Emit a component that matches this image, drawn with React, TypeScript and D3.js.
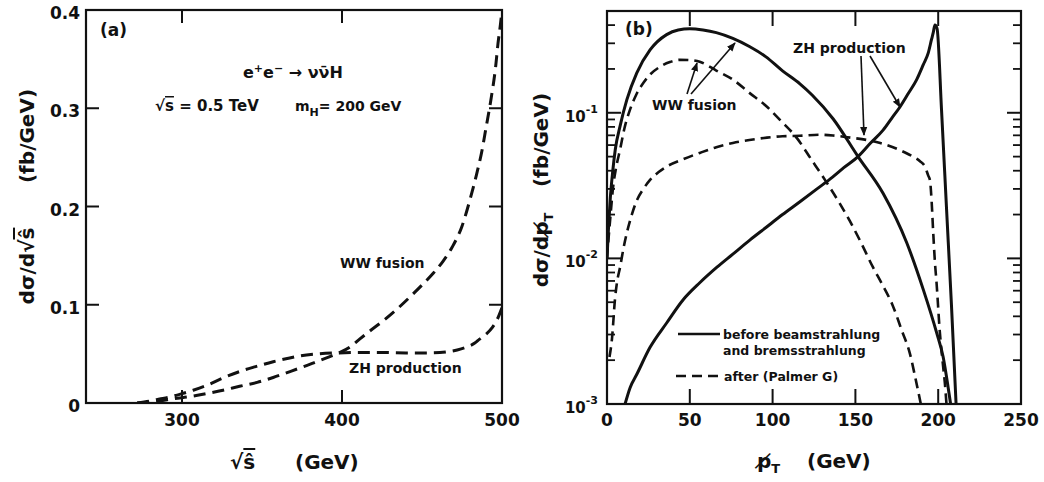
import React from 'react';
import * as d3 from 'd3';

const FONT = '"DejaVu Sans", sans-serif';

// ---------- panel (a): dσ/d√ŝ versus √ŝ ----------
const sqrtSTicks = [300, 400, 500];
const sigmaTicksA = [0, 0.1, 0.2, 0.3, 0.4];

const wwFusionA: [number, number][] = [
  [272, 0], [280, 0.0008], [286, 0.002], [295, 0.0045], [305, 0.0065], [315, 0.0095],
  [325.6, 0.013], [336, 0.017], [347, 0.021], [357, 0.026], [367.5, 0.032], [376, 0.037],
  [384, 0.042], [392, 0.047], [398, 0.051], [405, 0.057], [411, 0.065], [418, 0.074],
  [426, 0.084], [434, 0.095], [442.5, 0.108], [450, 0.12], [457, 0.132], [463, 0.144],
  [469, 0.159], [475, 0.18], [480, 0.207], [484, 0.232], [487.5, 0.257], [490, 0.28],
  [493, 0.308], [496, 0.342], [497.5, 0.366], [499, 0.385], [500, 0.4],
];

const zhProductionA: [number, number][] = [
  [272, 0], [280, 0.002], [286, 0.004], [292, 0.006], [299, 0.009], [307, 0.013],
  [315.6, 0.018], [325, 0.025], [336, 0.032], [346, 0.037], [357, 0.042], [365, 0.045],
  [374, 0.048], [385, 0.05], [398, 0.051], [420, 0.0515], [440, 0.051], [455, 0.051],
  [465, 0.052], [472, 0.054], [478, 0.057], [483, 0.061], [486, 0.065], [490, 0.07],
  [494, 0.077], [497, 0.085], [500, 0.097],
];

// ---------- panel (b): dσ/dp̸T versus p̸T ----------
const ptTicks = [0, 50, 100, 150, 200, 250];
const decades = [1e-3, 1e-2, 1e-1];
const decadeExponents = ['-3', '-2', '-1'];

const wwBefore: [number, number][] = [
  [0, 0.01], [1, 0.017], [2, 0.026], [3.5, 0.04], [5, 0.056], [8, 0.082], [12, 0.123],
  [18, 0.188], [26, 0.27], [36, 0.344], [43, 0.37], [50, 0.377], [58, 0.37], [66, 0.355],
  [76, 0.324], [86, 0.285], [96, 0.242], [106, 0.194], [116.5, 0.158], [124, 0.132],
  [136.5, 0.091], [151.6, 0.05], [166.7, 0.028], [181, 0.0128], [191, 0.0061],
  [199, 0.0031], [203, 0.0021], [206, 0.0013], [207.5, 0.001],
];

const wwAfter: [number, number][] = [
  [0, 0.01], [1, 0.014], [2, 0.019], [3.7, 0.031], [5.5, 0.042], [7.9, 0.056],
  [10.5, 0.078], [13.9, 0.105], [17.5, 0.132], [21.9, 0.16], [26, 0.183], [32, 0.207],
  [38, 0.223], [44, 0.231], [50, 0.23], [56, 0.224], [66, 0.195], [76, 0.169],
  [86, 0.137], [96.6, 0.11], [105, 0.088], [114.7, 0.067], [123, 0.0485], [132.8, 0.033],
  [140, 0.0244], [146.7, 0.018], [153, 0.0131], [160.6, 0.0087], [166, 0.0067],
  [172.7, 0.0047], [178, 0.0032], [183, 0.0022], [186, 0.00155], [189.5, 0.001],
];

const zhBefore: [number, number][] = [
  [10.9, 0.001], [14, 0.0013], [18, 0.0016], [26, 0.00245], [36, 0.0036], [46, 0.0052],
  [56, 0.0068], [66.4, 0.0087], [76, 0.0107], [86.4, 0.0134], [96, 0.0163], [106, 0.02],
  [116.5, 0.0245], [126.8, 0.03], [136, 0.036], [143, 0.042], [151.6, 0.05], [159, 0.0617],
  [166.7, 0.076], [172, 0.092], [177, 0.11], [182, 0.136], [187, 0.169], [191, 0.214],
  [194, 0.258], [196, 0.32], [197, 0.355], [198, 0.4], [199.3, 0.38], [202, 0.105],
  [205, 0.0223], [208, 0.0048], [210.8, 0.001],
];

const zhAfter: [number, number][] = [
  [1.5, 0.0021], [3, 0.0028], [4.8, 0.0052], [6, 0.0068], [7.9, 0.0087], [10, 0.0118],
  [12, 0.015], [15, 0.02], [18, 0.025], [22, 0.03], [26, 0.0346], [31, 0.039], [36, 0.0427],
  [46, 0.048], [56, 0.053], [66, 0.058], [76, 0.062], [86, 0.065], [96.6, 0.0675],
  [106, 0.069], [116.5, 0.0695], [128.6, 0.0706], [136.5, 0.0698], [147, 0.0675],
  [157, 0.065], [165, 0.062], [172.7, 0.058], [179, 0.054], [184.8, 0.05], [189, 0.0465],
  [192, 0.0427], [194, 0.037], [195, 0.0346], [196, 0.025], [197, 0.015], [198, 0.0095],
  [199, 0.0068], [201, 0.0031], [203, 0.0018], [204, 0.0014], [205, 0.001],
];

const W = 1044;
const H = 482;

export default function App() {
  // scales
  const xA = d3.scaleLinear().domain([240, 500]).range([86, 502]);
  const yA = d3.scaleLinear().domain([0, 0.4]).range([403, 10]);
  const xB = d3.scaleLinear().domain([0, 250]).range([607, 1021]);
  const yB = d3.scaleLog().domain([1e-3, 0.5]).range([404, 11]);

  const lineA = d3
    .line<[number, number]>()
    .x((d) => xA(d[0]))
    .y((d) => yA(d[1]))
    .curve(d3.curveMonotoneX);
  const lineB = d3
    .line<[number, number]>()
    .x((d) => xB(d[0]))
    .y((d) => yB(d[1]))
    .curve(d3.curveMonotoneX);

  const [ax0, ax1] = xA.range();
  const [ay0, ay1] = yA.range(); // bottom, top
  const [bx0, bx1] = xB.range();
  const [by0, by1] = yB.range();

  const minorB: number[] = [];
  decades.forEach((d) => {
    for (let k = 2; k <= 9; k++) {
      const v = k * d;
      if (v < 0.5) minorB.push(v);
    }
  });

  const ink = '#111';
  const txt = { fontFamily: FONT, fontWeight: 700, fill: ink } as const;

  return (
    <svg
      width={W}
      height={H}
      viewBox={`0 0 ${W} ${H}`}
      style={{ position: 'absolute', left: 0, top: 0, background: '#fff' }}
    >
      <defs>
        <clipPath id="clipA">
          <rect x={ax0} y={ay1} width={ax1 - ax0} height={ay0 - ay1} />
        </clipPath>
        <clipPath id="clipB">
          <rect x={bx0} y={by1} width={bx1 - bx0} height={by0 - by1} />
        </clipPath>
        <marker
          id="head"
          viewBox="0 0 10 10"
          refX="9"
          refY="5"
          markerWidth="9"
          markerHeight="9"
          markerUnits="userSpaceOnUse"
          orient="auto"
        >
          <path d="M0,1 L10,5 L0,9 Z" fill={ink} />
        </marker>
      </defs>

      {/* ================= panel (a) ================= */}
      <rect x={ax0} y={ay1} width={ax1 - ax0} height={ay0 - ay1} fill="none" stroke={ink} strokeWidth={2.2} />
      {sqrtSTicks.slice(0, 2).map((t) => (
        <g key={`xa${t}`}>
          <line x1={xA(t)} x2={xA(t)} y1={ay0} y2={ay0 - 13} stroke={ink} strokeWidth={2} />
          <line x1={xA(t)} x2={xA(t)} y1={ay1} y2={ay1 + 13} stroke={ink} strokeWidth={2} />
        </g>
      ))}
      {sqrtSTicks.map((t) => (
        <text key={`xal${t}`} x={xA(t)} y={426} textAnchor="middle" fontSize={17} {...txt}>
          {t}
        </text>
      ))}
      {sigmaTicksA.slice(1, 4).map((t) => (
        <g key={`ya${t}`}>
          <line x1={ax0} x2={ax0 + 13} y1={yA(t)} y2={yA(t)} stroke={ink} strokeWidth={2} />
          <line x1={ax1} x2={ax1 - 13} y1={yA(t)} y2={yA(t)} stroke={ink} strokeWidth={2} />
        </g>
      ))}
      {sigmaTicksA.map((t) => (
        <text
          key={`yal${t}`}
          x={80}
          y={yA(t) + 4}
          textAnchor="end"
          dominantBaseline="middle"
          fontSize={17}
          {...txt}
        >
          {t === 0 ? '0' : t.toFixed(1)}
        </text>
      ))}

      <g clipPath="url(#clipA)" fill="none" stroke={ink} strokeWidth={3} strokeDasharray="12 7">
        <path d={lineA(wwFusionA) ?? ''} />
        <path d={lineA(zhProductionA) ?? ''} />
      </g>

      <text x={100} y={36} fontSize={17} {...txt}>(a)</text>
      <text x={243} y={78} fontSize={16} {...txt}>
        e<tspan dy={-6} fontSize={11}>+</tspan>
        <tspan dy={6}>e</tspan>
        <tspan dy={-6} fontSize={11}>−</tspan>
        <tspan dy={6}> → νν̄H</tspan>
      </text>
      <text x={155} y={111} fontSize={15} {...txt}>
        √<tspan style={{ textDecoration: 'overline' }}>s</tspan> = 0.5 TeV
      </text>
      <text x={295} y={111} fontSize={14} {...txt}>
        m<tspan dy={5} fontSize={11}>H</tspan>
        <tspan dy={-5}>= 200 GeV</tspan>
      </text>
      <text x={340} y={268} fontSize={14} {...txt}>WW fusion</text>
      <text x={349} y={373} fontSize={14} {...txt}>ZH production</text>

      {/* axis titles (a) */}
      <text x={230} y={469} fontSize={20} {...txt}>
        √<tspan style={{ textDecoration: 'overline' }}>ŝ</tspan>
      </text>
      <text x={295} y={469} fontSize={20} {...txt}>(GeV)</text>
      <text transform="translate(34,266) rotate(-90)" textAnchor="middle" fontSize={20} {...txt}>
        dσ/d√<tspan style={{ textDecoration: 'overline' }}>ŝ</tspan>
      </text>
      <text transform="translate(34,136) rotate(-90)" textAnchor="middle" fontSize={20} {...txt}>
        (fb/GeV)
      </text>

      {/* ================= panel (b) ================= */}
      <rect x={bx0} y={by1} width={bx1 - bx0} height={by0 - by1} fill="none" stroke={ink} strokeWidth={2.2} />
      {ptTicks.slice(1, 5).map((t) => (
        <g key={`xb${t}`}>
          <line x1={xB(t)} x2={xB(t)} y1={by0} y2={by0 - 15} stroke={ink} strokeWidth={2} />
          <line x1={xB(t)} x2={xB(t)} y1={by1} y2={by1 + 15} stroke={ink} strokeWidth={2} />
        </g>
      ))}
      {ptTicks.map((t) => (
        <text key={`xbl${t}`} x={xB(t)} y={426} textAnchor="middle" fontSize={17} {...txt}>
          {t}
        </text>
      ))}
      {decades.map((t) => (
        <g key={`yb${t}`}>
          <line x1={bx0} x2={bx0 + 14} y1={yB(t)} y2={yB(t)} stroke={ink} strokeWidth={2} />
          <line x1={bx1} x2={bx1 - 14} y1={yB(t)} y2={yB(t)} stroke={ink} strokeWidth={2} />
        </g>
      ))}
      {minorB.map((t) => (
        <g key={`ybm${t}`}>
          <line x1={bx0} x2={bx0 + 8} y1={yB(t)} y2={yB(t)} stroke={ink} strokeWidth={1.8} />
          <line x1={bx1} x2={bx1 - 8} y1={yB(t)} y2={yB(t)} stroke={ink} strokeWidth={1.8} />
        </g>
      ))}
      {decades.map((t, i) => (
        <text key={`ybl${t}`} x={598} y={yB(t) + 9} textAnchor="end" fontSize={15} {...txt}>
          10<tspan dy={-9} fontSize={11}>{decadeExponents[i]}</tspan>
        </text>
      ))}

      <g clipPath="url(#clipB)" fill="none" stroke={ink}>
        <path d={lineB(wwBefore) ?? ''} strokeWidth={3} />
        <path d={lineB(zhBefore) ?? ''} strokeWidth={3} />
        <path d={lineB(wwAfter) ?? ''} strokeWidth={2.6} strokeDasharray="10 6" />
        <path d={lineB(zhAfter) ?? ''} strokeWidth={2.6} strokeDasharray="10 6" />
      </g>

      <text x={625} y={35} fontSize={17} {...txt}>(b)</text>
      <text x={652} y={110} fontSize={14} {...txt}>WW fusion</text>
      <text x={793} y={53} fontSize={14} {...txt}>ZH production</text>

      {/* annotation arrows */}
      <g stroke={ink} strokeWidth={1.6} markerEnd="url(#head)">
        <line x1={687} y1={94} x2={697} y2={63} />
        <line x1={691} y1={94} x2={735} y2={43} />
        <line x1={861} y1={56} x2={864} y2={135} />
        <line x1={870} y1={56} x2={900} y2={107} />
      </g>

      {/* legend */}
      <line x1={678} x2={720} y1={334} y2={334} stroke={ink} strokeWidth={2.6} />
      <text x={723} y={339} fontSize={12.5} {...txt}>before beamstrahlung</text>
      <text x={723} y={355} fontSize={12.5} {...txt}>and bremsstrahlung</text>
      <line x1={676} x2={720} y1={376} y2={376} stroke={ink} strokeWidth={2.6} strokeDasharray="10 6" />
      <text x={724} y={381} fontSize={12.5} {...txt}>after (Palmer G)</text>

      {/* axis titles (b) */}
      <text x={757} y={468} fontSize={20} {...txt}>
        p̸<tspan dy={5} fontSize={13}>T</tspan>
      </text>
      <text x={807} y={468} fontSize={20} {...txt}>(GeV)</text>
      <text transform="translate(548,250) rotate(-90)" textAnchor="middle" fontSize={20} {...txt}>
        dσ/dp̸<tspan dy={5} fontSize={13}>T</tspan>
      </text>
      <text transform="translate(548,140) rotate(-90)" textAnchor="middle" fontSize={20} {...txt}>
        (fb/GeV)
      </text>
    </svg>
  );
}
